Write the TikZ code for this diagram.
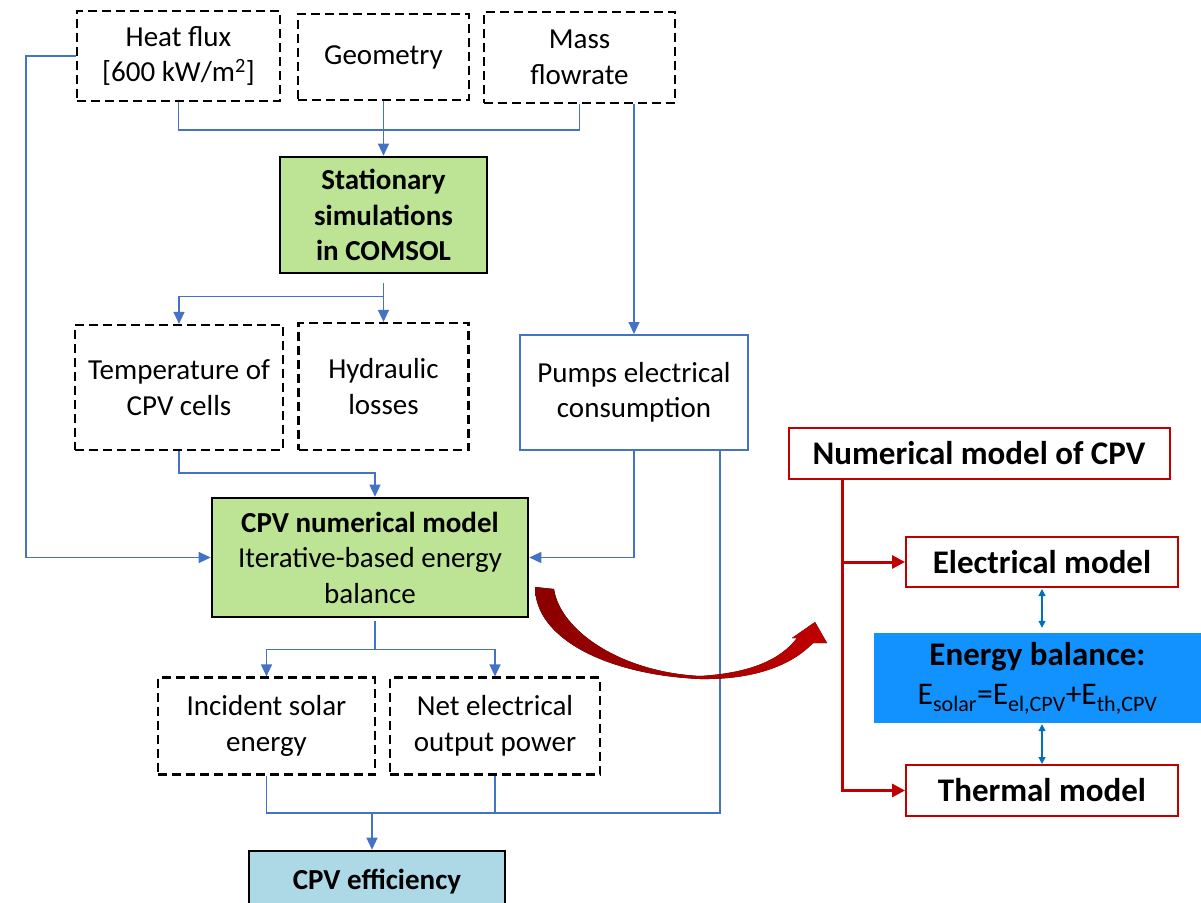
\documentclass[tikz,border=0pt]{standalone}
\usepackage{fontspec}
\setmainfont{Carlito}
\usetikzlibrary{arrows.meta,calc}
\definecolor{cblue}{HTML}{4472C4}
\definecolor{cgreen}{HTML}{BDE394}
\definecolor{ceff}{HTML}{ADD8E6}
\definecolor{cred}{HTML}{C00000}
\definecolor{cdred}{HTML}{8B0000}
\definecolor{ceb}{HTML}{1192FF}
\definecolor{cdbl}{HTML}{0070C0}
\tikzset{
  every node/.style={font=\fontsize{29}{35.5}\selectfont, align=center, inner sep=0pt},
  dbox/.style={draw=black, line width=2.2pt, dash pattern=on 9pt off 5pt},
  gbox/.style={draw=black, line width=2.6pt, fill=cgreen},
  rbox/.style={draw=cred, line width=2pt, font=\fontsize{33}{40}\selectfont\bfseries},
  link/.style={draw=cblue, line width=1.3pt},
  arr/.style={-{Triangle[length=12pt,width=11pt]}},
  redl/.style={draw=cred, line width=3pt, -{Triangle[length=13pt,width=13pt]}},
  dbl/.style={draw=cdbl, line width=1.2pt, {Triangle[length=7pt,width=7pt]}-{Triangle[length=7pt,width=7pt]}}
}
\begin{document}
\begin{tikzpicture}[x=1pt,y=-1pt]
\useasboundingbox (0,0) rectangle (1201,902);
% top inputs
\node[dbox, minimum width=203pt, minimum height=90pt] (heat) at (178.5,56) {Heat flux\\{}[600 kW/m\textsuperscript{2}]};
\node[dbox, minimum width=171pt, minimum height=86pt] (geom) at (383.5,57) {Geometry};
\node[dbox, minimum width=191pt, minimum height=91pt] (mass) at (579.5,57.5) {Mass\\flowrate};
\node[gbox, minimum width=207pt, minimum height=116pt, font=\fontsize{29}{35.5}\selectfont\bfseries] (stat) at (383.5,215) {Stationary\\simulations\\in COMSOL};
\node[dbox, minimum width=208pt, minimum height=125pt] (temp) at (179,387.5) {Temperature of\\CPV cells};
\node[dbox, minimum width=170pt, minimum height=127pt] (hyd) at (383.5,386.5) {Hydraulic\\losses};
\node[draw=cblue, line width=2pt, minimum width=228pt, minimum height=115pt] (pump) at (634,392.5) {Pumps electrical\\consumption};
\node[gbox, minimum width=316pt, minimum height=119pt] (cpv) at (370,557.5) {{\bfseries CPV numerical model}\\Iterative-based energy\\balance};
\node[dbox, minimum width=217pt, minimum height=97pt] (inc) at (266.5,726) {Incident solar\\energy};
\node[dbox, minimum width=210pt, minimum height=97pt] (net) at (495,726) {Net electrical\\output power};
\node[draw=black, line width=2.6pt, fill=ceff, minimum width=256pt, minimum height=62pt, font=\fontsize{29}{35.5}\selectfont\bfseries] (eff) at (377,882) {CPV efficiency};
% right panel
\node[rbox, minimum width=381pt, minimum height=51pt] (nm) at (979,453.5) {Numerical model of CPV};
\node[rbox, minimum width=272pt, minimum height=50pt] (el) at (1042,562) {Electrical model};
\node[fill=ceb, minimum width=327pt, minimum height=90pt, font=\fontsize{31.5}{39}\selectfont] (eb) at (1037.5,678) {{\fontsize{33}{39}\selectfont\bfseries Energy balance:}\\E\textsubscript{solar}=E\textsubscript{el,CPV}+E\textsubscript{th,CPV}};
\node[rbox, minimum width=272pt, minimum height=51pt] (th) at (1042,790.5) {Thermal model};
% connectors
\draw[link] (heat.south) -- ++(0,28) -| (mass.south);
\draw[link,arr] (geom.south) -- (stat.north);
\draw[link,arr] (heat.west) -- ++(-50,0) |- (cpv.west);
\draw[link,arr] (mass.south -| pump.north) -- (pump.north);
\coordinate (s0) at ($(stat.south)+(0,9)$);
\draw[link,arr] (s0) -- ++(0,13) -| (temp.north);
\draw[link,arr] (s0) -- (hyd.north);
\coordinate (c0) at ($(cpv.north)+(5,0)$);
\draw[link,arr] (temp.south) -- ++(0,22) -| (c0);
\draw[link,arr] (pump.south) |- (cpv.east);
\coordinate (c1) at ($(cpv.south)+(5,3)$);
\draw[link,arr] (c1) -- ++(0,28) -| (inc.north);
\draw[link,arr] (c1) -- ++(0,28) -| (net.north);
\coordinate (pr) at ($(pump.south)+(86,0)$);
\coordinate (bus) at (372,813);
\draw[link] (inc.south) |- (bus) -- (bus -| pr) -- (pr);
\draw[link] (net.south) -- (net.south |- bus);
\draw[link,arr] (bus) -- (bus |- eff.north);
% red tree
\coordinate (rt) at ($(nm.south west)+(55,0)$);
\draw[redl] (rt) |- (th.west);
\draw[redl] (rt |- el.west) -- (el.west);
\draw[dbl, shorten >=5pt, shorten <=1pt] (el.south) -- (el.south |- eb.north);
\draw[dbl, shorten <=1pt] (th.north |- eb.south) -- (th.north);
% curved arrow
\fill[left color=cdred, right color=cred]
  (535,587) .. controls (535,640) and (610,675) .. (700,679)
  .. controls (760,680) and (795,662) .. (813,643)
  -- (827,643) -- (815,622) -- (792,638) -- (797,638)
  .. controls (780,660) and (750,673) .. (700,676)
  .. controls (620,672) and (560,630) .. (554,589) -- cycle;
\end{tikzpicture}
\end{document}
